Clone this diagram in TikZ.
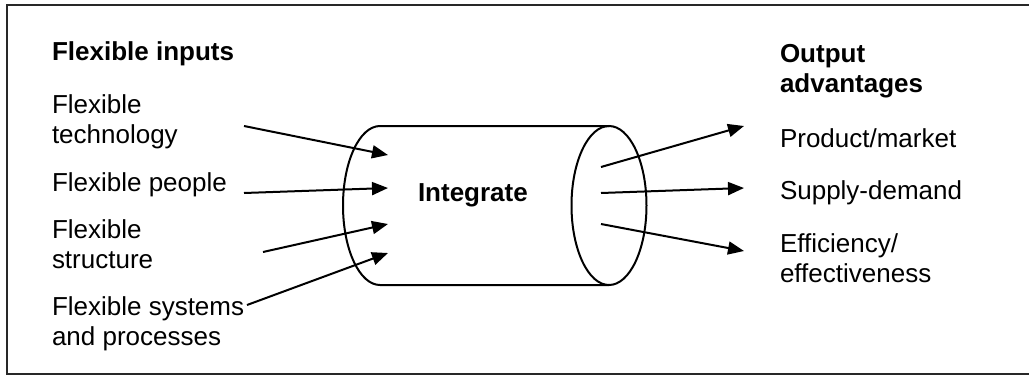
\documentclass[tikz,border=0pt]{standalone}
\usepackage{fontspec}
\setmainfont{Liberation Sans}
\usetikzlibrary{arrows.meta}
\definecolor{frameG}{RGB}{40,40,40}

\begin{document}
\begin{tikzpicture}[x=0.5pt,y=-0.5pt,line width=1pt,
  flow/.style={-{Triangle[length=8pt,width=6.5pt]}},
  lbl/.style={anchor=base west,inner sep=0pt,align=left,font=\fontsize{13}{15}\selectfont},
  head/.style={lbl,font=\fontsize{13}{15}\selectfont\bfseries}]
\useasboundingbox (0,0) rectangle (1029,376);
\draw[frameG] (1040,5)--(7,5)--(7,374)--(1040,374);
% cylinder
\draw (609,126)--(380,126) arc[start angle=270,end angle=90,x radius=37,y radius=79.5]--(609,285);
\draw (609,205.5) ellipse[x radius=37.5,y radius=79.5];
\node[head] (integ) at (417,201) {Integrate};
% inputs (base = last line)
\node[head] (inhead) at (51,60) {Flexible inputs};
\node[lbl] (tech) at (51,143) {Flexible\\technology};
\node[lbl] (people) at (51,191) {Flexible people};
\node[lbl] (struct) at (51,268) {Flexible\\structure};
\node[lbl] (sys) at (51,345) {Flexible systems\\and processes};
% outputs
\node[head] (outhead) at (779,92) {Output\\advantages};
\node[lbl] (prod) at (779,147) {Product/market};
\node[lbl] (supply) at (779,199) {Supply-demand};
\node[lbl] (eff) at (779,282) {Efficiency/\\effectiveness};
\coordinate (t0) at (244,126); \coordinate (t1) at (388,155);
\coordinate (p0) at (244,193); \coordinate (p1) at (388,188);
\coordinate (s0) at (263,252); \coordinate (s1) at (388,224);
\coordinate (y0) at (247,305); \coordinate (y1) at (388,253);
\coordinate (a0) at (601,167); \coordinate (a1) at (744,126);
\coordinate (b0) at (601,193); \coordinate (b1) at (744,188);
\coordinate (c0) at (601,224); \coordinate (c1) at (744,251);
\draw[flow] (t0)--(t1);
\draw[flow] (p0)--(p1);
\draw[flow] (s0)--(s1);
\draw[flow] (y0)--(y1);
\draw[flow] (a0)--(a1);
\draw[flow] (b0)--(b1);
\draw[flow] (c0)--(c1);
\end{tikzpicture}
\end{document}
